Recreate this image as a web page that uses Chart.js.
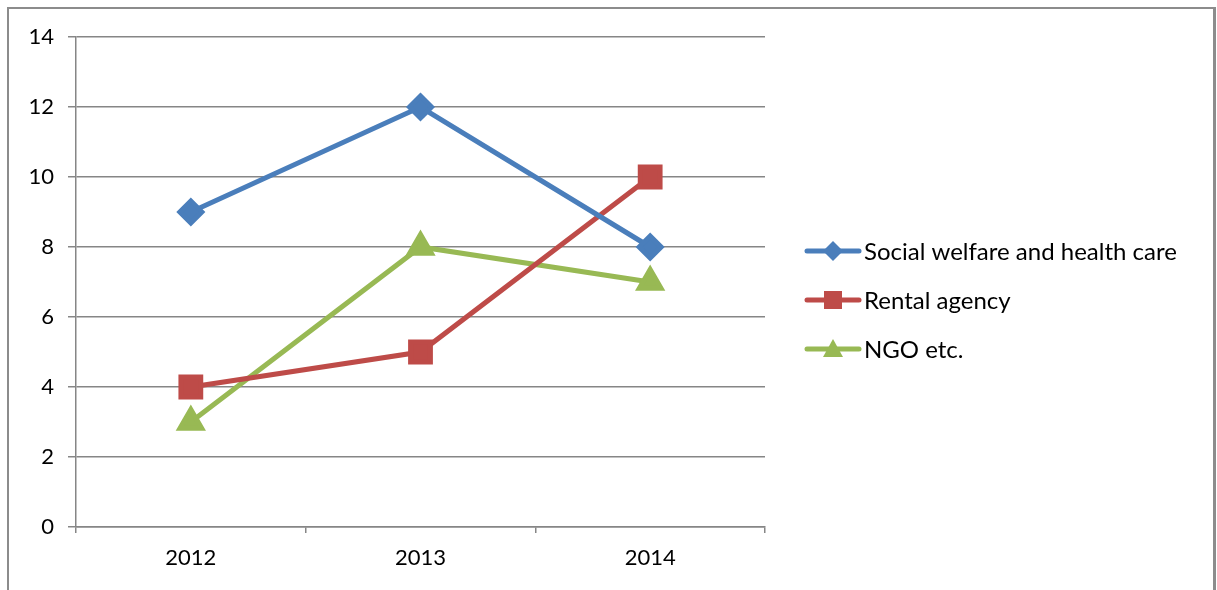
<!DOCTYPE html>
<html>
<head>
<meta charset="utf-8">
<script src="https://cdn.jsdelivr.net/npm/chart.js@4.4.0/dist/chart.umd.min.js"></script>
<style>
  body { margin: 0; background: #fff; }
  #wrap { position: relative; width: 1217px; height: 590px; overflow: hidden; }
  #frame { position: absolute; left: 7px; top: 7px; width: 1204px; height: 640px;
           border: 2px solid #8c8c8c; border-right-width: 3px; }
  canvas { position: absolute; left: 0; top: 0; }
</style>
</head>
<body>
<div id="wrap">
  <div id="frame"></div>
  <canvas id="chart" width="1217" height="590"></canvas>
</div>
<script>
const years = ['2012', '2013', '2014'];
const socialWelfare = [9, 12, 8];
const rentalAgency = [4, 5, 10];
const ngo = [3, 8, 7];
const seriesNames = ['Social welfare and health care', 'Rental agency', 'NGO etc.'];

const FONT = 'Lato, "Open Sans", sans-serif';

// legend drawn by hand so the line runs through the marker like Excel
const sideLegend = {
    id: 'sideLegend',
    afterDraw(chart) {
        const ctx = chart.ctx;
        chart.data.datasets.forEach((ds, i) => {
            const y = 251 + i * 49;
            ctx.save();
            ctx.strokeStyle = ds.borderColor;
            ctx.lineWidth = 5;
            ctx.lineCap = 'round';
            ctx.beginPath();
            ctx.moveTo(807, y);
            ctx.lineTo(859, y);
            ctx.stroke();

            ctx.fillStyle = ds.borderColor;
            const cx = 833;
            ctx.beginPath();
            if (ds.pointStyle === 'rectRot') {
                ctx.moveTo(cx, y - 10);
                ctx.lineTo(cx + 10, y);
                ctx.lineTo(cx, y + 10);
                ctx.lineTo(cx - 10, y);
            } else if (ds.pointStyle === 'rect') {
                ctx.rect(cx - 9, y - 9, 18, 18);
            } else {
                ctx.moveTo(cx, y - 10);
                ctx.lineTo(cx + 10, y + 8);
                ctx.lineTo(cx - 10, y + 8);
            }
            ctx.closePath();
            ctx.fill();

            ctx.fillStyle = '#000';
            ctx.font = '24px ' + FONT;
            ctx.textBaseline = 'middle';
            ctx.textAlign = 'left';
            ctx.fillText(ds.label, 864, y + 1);
            ctx.restore();
        });
    }
};

new Chart(document.getElementById('chart'), {
    type: 'line',
    data: {
        labels: years,
        datasets: [
            {
                label: seriesNames[0],
                data: socialWelfare,
                borderColor: '#4a7ebb',
                backgroundColor: '#4a7ebb',
                borderWidth: 5,
                pointStyle: 'rectRot',
                pointRadius: 11,
                tension: 0
            },
            {
                label: seriesNames[1],
                data: rentalAgency,
                borderColor: '#be4b48',
                backgroundColor: '#be4b48',
                borderWidth: 5,
                pointStyle: 'rect',
                pointRadius: 14,
                tension: 0
            },
            {
                label: seriesNames[2],
                data: ngo,
                borderColor: '#98b954',
                backgroundColor: '#98b954',
                borderWidth: 5,
                pointStyle: 'triangle',
                pointRadius: 12.5,
                tension: 0
            }
        ]
    },
    options: {
        responsive: false,
        animation: false,
        layout: { padding: { left: 0, top: 37, right: 452, bottom: 0 } },
        plugins: {
            legend: { display: false },
            tooltip: { enabled: false }
        },
        scales: {
            x: {
                offset: true,
                grid: {
                    offset: true,
                    drawOnChartArea: false,
                    drawTicks: true,
                    tickLength: 6,
                    color: '#868686',
                    lineWidth: 1.5
                },
                border: { color: '#868686', width: 1.5 },
                ticks: {
                    color: '#000',
                    font: { family: FONT, size: 22 },
                    padding: 12
                },
                afterFit(scale) { scale.height = 63; }
            },
            y: {
                min: 0,
                max: 14,
                ticks: {
                    stepSize: 2,
                    color: '#000',
                    font: { family: FONT, size: 22 },
                    padding: 14
                },
                grid: {
                    color: '#868686',
                    lineWidth: 1.5,
                    tickLength: 8
                },
                border: { color: '#868686', width: 1.5 },
                afterFit(scale) { scale.width = 76; }
            }
        }
    },
    plugins: [sideLegend]
});
</script>
</body>
</html>
